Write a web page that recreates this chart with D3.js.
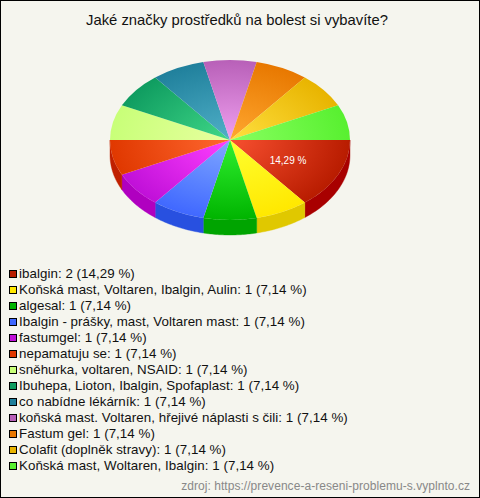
<!DOCTYPE html>
<html><head><meta charset="utf-8">
<script src="https://cdn.jsdelivr.net/npm/d3@7"></script>
<style>html,body{margin:0;padding:0;background:#fff}svg{display:block}text{font-family:"Liberation Sans",Arial,sans-serif}</style>
</head><body><svg id="c" width="480" height="498"></svg>
<script>
const titleText = "Jaké značky prostředků na bolest si vybavíte?";
const sourceText = "zdroj: https://prevence-a-reseni-problemu-s.vyplnto.cz";
const categories = ["ibalgin","Koňská mast, Voltaren, Ibalgin, Aulin","algesal","Ibalgin - prášky, mast, Voltaren mast","fastumgel","nepamatuju se","sněhurka, voltaren, NSAID","Ibuhepa, Lioton, Ibalgin, Spofaplast","co nabídne lékárník","koňská mast. Voltaren, hřejivé náplasti s čili","Fastum gel","Colafit (doplněk stravy)","Koňská mast, Woltaren, Ibalgin"];
const counts = [2,1,1,1,1,1,1,1,1,1,1,1,1];
const percents = ["14,29","7,14","7,14","7,14","7,14","7,14","7,14","7,14","7,14","7,14","7,14","7,14","7,14"];
const baseColors = ["#b81c00","#ffe800","#00b400","#4068ff","#c010d8","#e03800","#c8ff78","#0f9c60","#20809c","#b860b8","#e87800","#e8b400","#58f030"];
const lightColors = ["#f85030","#ffff30","#30f030","#80a8ff","#ff40ff","#ff6830","#e8ffa0","#40d888","#50b0c8","#f0a0f0","#ffa830","#ffe040","#88ff60"];
const wallColors = ["#a80000","#e0c800","#00a400","#2850e0","#b000c0","#c02000"];

const svg = d3.select("#c");
const cx = 230, cy = 140, rx = 120, ry = 80, depth = 15;
const defs = svg.append("defs");
svg.append("rect").attr("x",.5).attr("y",.5).attr("width",479).attr("height",497).attr("fill","#f5f5ee").attr("stroke","#000");
svg.append("text").attr("x",237).attr("y",25).attr("text-anchor","middle").attr("font-size",14.8).attr("fill","#111").text(titleText);

const pie = d3.pie().sort(null).startAngle(Math.PI/2).endAngle(Math.PI*2.5);
const arcs = pie(counts);
const arc = d3.arc().innerRadius(0).outerRadius(rx);
const toScreen = a => a - Math.PI/2;

const g = svg.append("g").attr("transform",`translate(${cx},${cy})`);
// side walls
arcs.forEach((d,i)=>{
  const a0 = toScreen(d.startAngle), a1 = Math.min(toScreen(d.endAngle), Math.PI);
  if (a0 >= Math.PI) return;
  const p = d3.path();
  const steps = 30, pts=[];
  for(let k=0;k<=steps;k++){const t=a0+(a1-a0)*k/steps;pts.push([rx*Math.cos(t),ry*Math.sin(t)]);}
  pts.forEach((q,k)=>k?p.lineTo(q[0],q[1]):p.moveTo(q[0],q[1]));
  pts.slice().reverse().forEach(q=>p.lineTo(q[0],q[1]+depth));
  p.closePath();
  g.append("path").attr("d",p.toString()).attr("fill",wallColors[i]).attr("stroke",wallColors[i]).attr("stroke-width",.4);
});
// top face
const topFace = g.append("g").attr("transform",`scale(1,${ry/rx})`);
arcs.forEach((d,i)=>{
  const id="grad"+i;
  const gr=defs.append("radialGradient").attr("id",id).attr("gradientUnits","userSpaceOnUse").attr("cx",0).attr("cy",0).attr("r",rx);
  gr.append("stop").attr("offset","0%").attr("stop-color",lightColors[i]);
  gr.append("stop").attr("offset","100%").attr("stop-color",baseColors[i]);
  topFace.append("path").attr("d",arc(d)).attr("fill",`url(#${id})`);
});
// label on the largest slice
const c0 = arc.centroid(arcs[0]);
g.append("text").attr("x",c0[0]+4).attr("y",c0[1]*ry/rx+7).attr("text-anchor","middle").attr("font-size",10).attr("fill","#fff").text(percents[0]+" %");

// legend
const yPos = d3.scalePoint().domain(d3.range(categories.length)).range([273.5,465.5]);
const leg = svg.append("g").selectAll("g").data(categories).join("g").attr("transform",(d,i)=>`translate(0,${yPos(i)})`);
leg.append("rect").attr("x",9.5).attr("y",-3).attr("width",7).attr("height",7).attr("fill",(d,i)=>baseColors[i]).attr("stroke","#000");
leg.append("text").attr("x",19).attr("y",4.5).attr("font-size",13.33).attr("letter-spacing",0.05).attr("fill","#111").text((d,i)=>`${d}: ${counts[i]} (${percents[i]} %)`);
svg.append("text").attr("x",470).attr("y",490).attr("text-anchor","end").attr("font-size",12).attr("letter-spacing",0.05).attr("fill","#888").text(sourceText);
</script></body></html>
